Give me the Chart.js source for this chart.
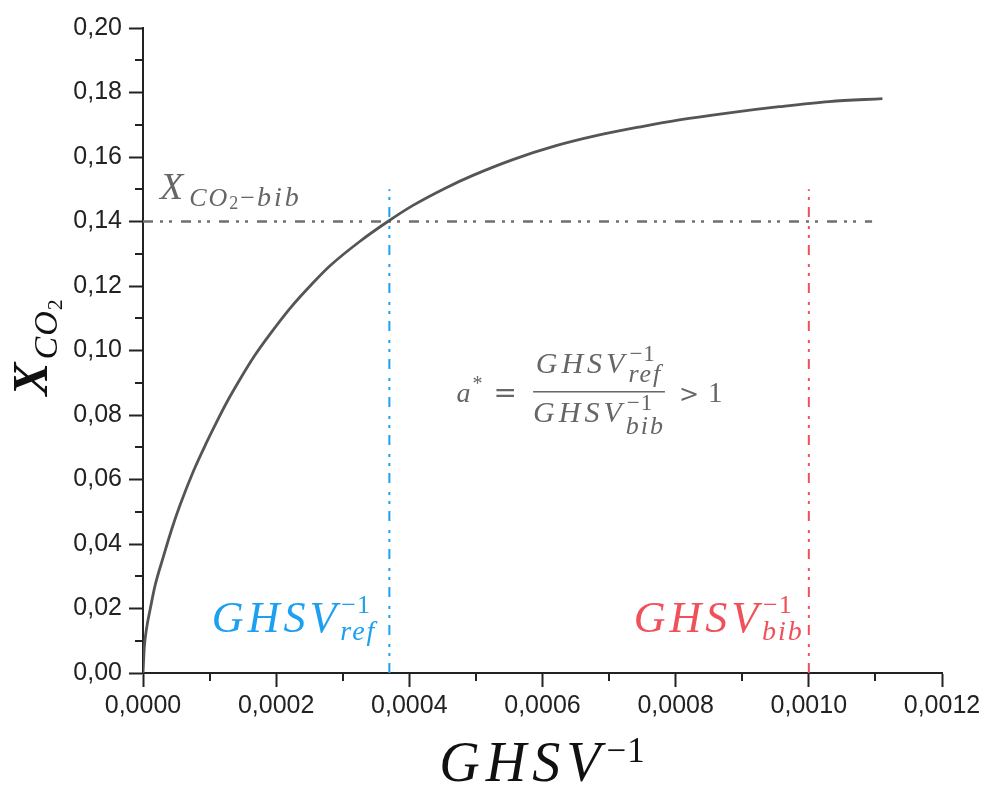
<!DOCTYPE html>
<html><head><meta charset="utf-8">
<script src="https://cdn.jsdelivr.net/npm/chart.js@4.4.0/dist/chart.umd.min.js"></script>
<style>html,body{margin:0;padding:0;background:#fff}canvas{display:block}</style>
</head><body>
<canvas id="c" width="990" height="788"></canvas>
<script>
// ---- data ----
const invGHSV = [0, 0.000002, 0.0000055, 0.000011, 0.000018, 0.0000305, 0.000043, 0.0000555, 0.0000755, 0.0000955, 0.0001105, 0.0001255, 0.0001455, 0.000168, 0.0001905, 0.0002205, 0.0002555, 0.0002805, 0.0003255, 0.0003655, 0.0004055, 0.0004555, 0.0004955, 0.0005555, 0.0006205, 0.0006805, 0.0007455, 0.0008055, 0.0008805, 0.0009555, 0.0010305, 0.0011105];
const xCO2    = [0, 0.0080, 0.0140, 0.0200, 0.0270, 0.0360, 0.0445, 0.0520, 0.0625, 0.0715, 0.0778, 0.0838, 0.0910, 0.0985, 0.1050, 0.1130, 0.1210, 0.1262, 0.1338, 0.1397, 0.1450, 0.1505, 0.1543, 0.1592, 0.1635, 0.1666, 0.1693, 0.1715, 0.1737, 0.1756, 0.1772, 0.1781];
const xTicks = [0, 0.0002, 0.0004, 0.0006, 0.0008, 0.0010, 0.0012];
const yTicks = [0, 0.02, 0.04, 0.06, 0.08, 0.10, 0.12, 0.14, 0.16, 0.18, 0.20];
const xMinor = [0.0001, 0.0003, 0.0005, 0.0007, 0.0009, 0.0011];
const yMinor = [0.01, 0.03, 0.05, 0.07, 0.09, 0.11, 0.13, 0.15, 0.17, 0.19];
const xCO2Bib = 0.14;          // horizontal reference level
const xCO2BibEnd = 0.001095;   // end of horizontal reference line
const invRef = 0.00037;        // GHSV_ref^-1
const invBib = 0.0010;         // GHSV_bib^-1
const vTop = 0.15;             // top of vertical reference lines

const BLUE = '#1ea0f0', RED = '#f0505a', GRAY = '#666666';
const SERIF = '"Liberation Serif", "DejaVu Serif", serif';
const f = (size, style) => `${style || 'italic'} ${size}px ${SERIF}`;
const DASH = [10, 7, 3, 6, 3, 9];

function measure(ctx, it) {
  ctx.font = it.font; ctx.letterSpacing = (it.ls || 0) + 'px';
  const w = ctx.measureText(it.t).width;
  ctx.letterSpacing = '0px';
  return w;
}
function layout(ctx, items) {
  let w = 0;
  for (const it of items) {
    if (it.stack) it.w = Math.max(...it.stack.map(s => measure(ctx, s) + (s.padL || 0))) + (it.padR || 0);
    else if (it.frac) { it.nw = layout(ctx, it.num); it.dw = layout(ctx, it.den); it.w = Math.max(it.nw, it.dw) + (it.padR || 0); }
    else it.w = (it.padL || 0) + measure(ctx, it) + (it.padR || 0);
    w += it.w;
  }
  return w;
}
function drawOne(ctx, it, x, y) {
  ctx.font = it.font; ctx.letterSpacing = (it.ls || 0) + 'px';
  ctx.fillText(it.t, x + (it.padL || 0), y + (it.dy || 0));
  ctx.letterSpacing = '0px';
}
function render(ctx, items, x, y) {
  let cx = x;
  for (const it of items) {
    if (it.stack) for (const s of it.stack) drawOne(ctx, s, cx, y);
    else if (it.frac) {
      const fw = Math.max(it.nw, it.dw);
      render(ctx, it.num, cx + (fw - it.nw) / 2, y + it.numDy);
      render(ctx, it.den, cx + (fw - it.dw) / 2, y + it.denDy);
      ctx.fillRect(cx, y + it.barDy - 0.75, fw, 1.5);
    } else drawOne(ctx, it, cx, y);
    cx += it.w;
  }
}
function drawMath(ctx, items, x, y, align, color) {
  ctx.save();
  ctx.fillStyle = color; ctx.textBaseline = 'alphabetic'; ctx.textAlign = 'left';
  const w = layout(ctx, items);
  const left = align === 'center' ? x - w / 2 : align === 'right' ? x - w : x;
  render(ctx, items, left, y);
  ctx.restore();
}

const ghsv = (size, ls, supSize, subSize, sub, supDy, subDy, subLs) => [
  { t: 'GHSV', font: f(size), ls: ls },
  { stack: [ { t: '\u22121', font: f(supSize, 'normal'), dy: supDy, padL: 1, ls: 1 },
             { t: sub, font: f(subSize), dy: subDy, ls: subLs } ] }
];

const mathPlugin = {
  id: 'math',
  afterDraw(chart) {
    const ctx = chart.ctx, xs = chart.scales.x, ys = chart.scales.y, ca = chart.chartArea;
    ctx.save();
    ctx.strokeStyle = '#222'; ctx.lineWidth = 2;
    ctx.beginPath();
    for (const v of xMinor) { const px = Math.round(xs.getPixelForValue(v)); ctx.moveTo(px, ca.bottom); ctx.lineTo(px, ca.bottom + 8); }
    for (const v of yMinor) { const py = Math.round(ys.getPixelForValue(v)); ctx.moveTo(ca.left - 8, py); ctx.lineTo(ca.left, py); }
    ctx.stroke();
    ctx.restore();

    // X_{CO2-bib}
    drawMath(ctx, [
      { t: 'X', font: f(38), padR: 6 },
      { t: 'CO', font: f(26), dy: 7, ls: 2 },
      { t: '2', font: f(18, 'normal'), dy: 10, padR: 2 },
      { t: '\u2212', font: f(26, 'normal'), dy: 7, ls: 2 },
      { t: 'bib', font: f(28), dy: 7, ls: 3 }
    ], xs.getPixelForValue(0.0000255), ys.getPixelForValue(xCO2Bib) - 23, 'left', GRAY);

    // labels for vertical lines
    drawMath(ctx, ghsv(44, 4, 26, 28, 'ref', -19, 8, 2), xs.getPixelForValue(invRef) - 13, ys.getPixelForValue(0.0127), 'right', BLUE);
    drawMath(ctx, ghsv(44, 4, 26, 28, 'bib', -19, 8, 2), xs.getPixelForValue(invBib) - 5, ys.getPixelForValue(0.0127), 'right', RED);

    // formula
    drawMath(ctx, [
      { t: 'a', font: f(28) },
      { t: '*', font: f(20, 'normal'), dy: -12, padL: 2 },
      { t: '=', font: '28px "DejaVu Serif", serif', padL: 11, padR: 16 },
      { frac: true, numDy: -29, denDy: 20, barDy: -10,
        num: ghsv(30, 4, 23, 26, 'ref', -12, 9, 2),
        den: ghsv(30, 4, 23, 26, 'bib', -12, 12, 2) },
      { t: '>', font: '24px "DejaVu Serif", serif', padL: 14 },
      { t: '1', font: f(29, 'normal'), padL: 9 }
    ], xs.getPixelForValue(0.000471), ys.getPixelForValue(0.0841), 'left', GRAY);

    // x axis title
    drawMath(ctx, [
      { t: 'GHSV', font: f(56), ls: 6 },
      { t: '\u22121', font: f(35, 'normal'), dy: -19, padL: 0, ls: 1 }
    ], xs.getPixelForValue(0.0006), 781, 'center', '#111');

    // y axis title (rotated)
    ctx.save();
    ctx.translate(47, (ca.top + ca.bottom) / 2 - 3);
    ctx.rotate(-Math.PI / 2);
    drawMath(ctx, [
      { t: 'X', font: `bold italic 50px ${SERIF}`, padR: 3 },
      { t: 'CO', font: f(34), dy: 10, ls: 1 },
      { t: '2', font: f(22, 'normal'), dy: 15 }
    ], 0, 0, 'center', '#111');
    ctx.restore();
  }
};

const pts = (xsArr, ysArr) => xsArr.map((x, i) => ({ x: x, y: ysArr[i] }));

new Chart(document.getElementById('c'), {
  type: 'line',
  data: {
    datasets: [
      { data: pts(invGHSV, xCO2), borderColor: '#555555', borderWidth: 2.8, pointRadius: 0, cubicInterpolationMode: 'monotone', fill: false },
      { data: pts([0, xCO2BibEnd], [xCO2Bib, xCO2Bib]), borderColor: '#707070', borderWidth: 2.5, borderDash: DASH, pointRadius: 0 },
      { data: pts([invRef, invRef], [0, vTop]), borderColor: BLUE, borderWidth: 2, borderDash: DASH, pointRadius: 0 },
      { data: pts([invBib, invBib], [0, vTop]), borderColor: RED, borderWidth: 2, borderDash: DASH, pointRadius: 0 }
    ]
  },
  options: {
    responsive: false,
    animation: false,
    events: [],
    layout: { padding: { left: 0, top: 28, right: 48, bottom: 0 } },
    plugins: { legend: { display: false }, tooltip: { enabled: false } },
    scales: {
      x: {
        type: 'linear', min: 0, max: 0.0012,
        afterBuildTicks: s => { s.ticks = xTicks.map(v => ({ value: v })); },
        afterFit: s => { s.height = 115; },
        grid: { drawOnChartArea: false, drawTicks: true, tickLength: 14, tickWidth: 2, tickColor: '#222' },
        border: { display: true, color: '#222', width: 2 },
        ticks: { padding: 4, color: '#222', maxRotation: 0, autoSkip: false,
          font: { family: '"Liberation Sans", Arial, sans-serif', size: 25 },
          callback: v => v.toFixed(4).replace('.', ',') }
      },
      y: {
        type: 'linear', min: 0, max: 0.2,
        afterBuildTicks: s => { s.ticks = yTicks.map(v => ({ value: v })); },
        afterFit: s => { s.width = 143; },
        grid: { drawOnChartArea: false, drawTicks: true, tickLength: 14, tickWidth: 2, tickColor: '#222' },
        border: { display: true, color: '#222', width: 2 },
        ticks: { padding: 7, color: '#222', autoSkip: false,
          font: { family: '"Liberation Sans", Arial, sans-serif', size: 25 },
          callback: v => v.toFixed(2).replace('.', ',') }
      }
    }
  },
  plugins: [mathPlugin]
});
</script>
</body></html>
